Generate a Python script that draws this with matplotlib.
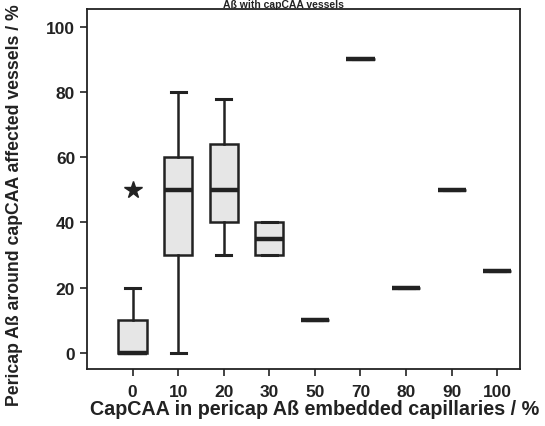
import matplotlib
matplotlib.use("Agg")
import matplotlib.pyplot as plt

plt.rcParams['font.family'] = ['Liberation Sans', 'DejaVu Sans']
plt.rcParams['font.weight'] = 'bold'

# categories on the x axis (CapCAA in embedded capillaries, %)
categories = ['0', '10', '20', '30', '50', '70', '80', '90', '100']

# box statistics: whisker low, q1, median, q3, whisker high
whislo = [0, 0, 30, 30, 10, 90, 20, 50, 25]
q1 = [0, 30, 40, 30, 10, 90, 20, 50, 25]
med = [0, 50, 50, 35, 10, 90, 20, 50, 25]
q3 = [10, 60, 64, 40, 10, 90, 20, 50, 25]
whishi = [20, 80, 78, 40, 10, 90, 20, 50, 25]
outliers = [[50], [], [], [], [], [], [], [], []]

stats = []
for i, c in enumerate(categories):
    stats.append(dict(label=c, whislo=whislo[i], q1=q1[i], med=med[i],
                      q3=q3[i], whishi=whishi[i], fliers=outliers[i]))

fig = plt.figure(figsize=(5.45, 4.27), dpi=100)
ax = fig.add_axes([87 / 545, 57 / 427, 433 / 545, 360 / 427])

ax.bxp(stats, positions=range(len(categories)), widths=0.62,
       patch_artist=True, showfliers=True,
       boxprops=dict(facecolor='#e6e6e6', edgecolor='#222222', linewidth=1.8),
       medianprops=dict(color='#222222', linewidth=3.2),
       whiskerprops=dict(color='#222222', linewidth=1.8),
       capprops=dict(color='#222222', linewidth=2.2),
       capwidths=0.33,
       flierprops=dict(marker='*', markersize=13, markerfacecolor='#222222',
                       markeredgecolor='#222222'))

ax.set_xlim(-1, 8.5)
ax.set_ylim(-5, 105.5)
ax.set_yticks([0, 20, 40, 60, 80, 100])
ax.set_xticks(range(len(categories)))
ax.set_xticklabels(categories)
ax.tick_params(labelsize=12.5, width=1.2, length=5, colors='#222222')
ax.tick_params(axis='x', pad=6)
for s in ax.spines.values():
    s.set_linewidth(1.3)
    s.set_color('#222222')

# axis labels placed by hand, as in the scanned figure
fig.text(315 / 545, 17 / 427, 'CapCAA in pericap Aß embedded capillaries / %',
         fontsize=14.2, fontweight='bold', ha='center', va='center',
         color='#222222')
fig.text(15 / 545, 21 / 427, 'Pericap Aß around capCAA affected vessels / %',
         rotation=90, fontsize=12.7, fontweight='bold', va='bottom', ha='center',
         color='#222222')
fig.text(0.52, 0.999, 'Aß with capCAA vessels', fontsize=7.5, fontweight='bold',
         ha='center', va='top', color='#222222')

fig.savefig('out.png', dpi=100)
